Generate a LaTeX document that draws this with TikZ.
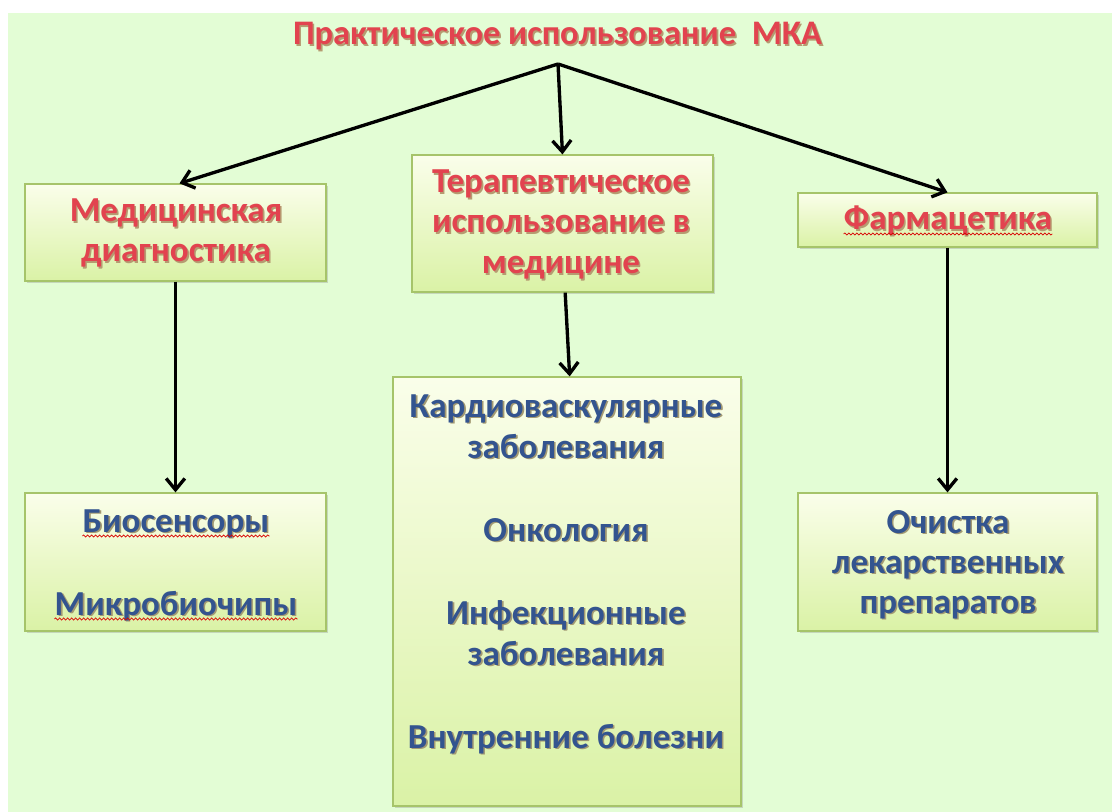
\documentclass[tikz,border=0pt]{standalone}
\usepackage{fontspec}
\setmainfont{Carlito}
\usetikzlibrary{arrows.meta,shadows,decorations.pathmorphing}
\definecolor{bg}{HTML}{E3FDD5}
\definecolor{boxtop}{HTML}{FAFEEA}
\definecolor{boxbot}{HTML}{DAF2A6}
\definecolor{boxedge}{HTML}{A6C46A}
\definecolor{redtxt}{HTML}{E2434F}
\definecolor{redsh}{HTML}{8A3030}
\definecolor{bluetxt}{HTML}{33548F}
\definecolor{bluesh}{HTML}{6A4040}
\newcommand\shred[1]{\makebox[0pt][l]{\hspace{1.2pt}\raisebox{-1.2pt}{\textcolor{redsh!45!boxbot}{#1}}}\textcolor{redtxt}{#1}}
\newcommand\shblue[1]{\makebox[0pt][l]{\hspace{1.2pt}\raisebox{-1.2pt}{\textcolor{bluesh!50!boxbot}{#1}}}\textcolor{bluetxt}{#1}}
\begin{document}
\begin{tikzpicture}[x=0.75pt,y=-0.75pt,
  box/.style={draw=boxedge, line width=0.9pt, top color=boxtop, bottom color=boxbot,
    drop shadow={shadow xshift=1.5pt, shadow yshift=-1.5pt, opacity=0.3}, inner sep=0},
  lab/.style={anchor=base, inner sep=0, font=\fontsize{26.3}{31}\selectfont\bfseries},
  sml/.style={anchor=base, inner sep=0, font=\fontsize{26.3}{31}\selectfont\bfseries},
  ttl/.style={anchor=base, inner sep=0, font=\fontsize{25.8}{30}\selectfont\bfseries},
  arr/.style={line width=2.5pt, -{Straight Barb[length=8.5pt,width=14pt]}},
  wavy/.style={draw=red!85!black, line width=0.5pt, decorate,
    decoration={snake, amplitude=0.8pt, segment length=3pt}}]
\useasboundingbox (0,0) rectangle (1112,812);
\fill[white] (0,0) rectangle (1112,812);
\fill[bg] (8,13) rectangle (1112,812);

% title
\node[ttl] (title) at (557.5,45) {\shred{Практическое использование\ \ МКА}};
\coordinate (apex) at (558,64);

% boxes
\node[box, minimum width=301*0.75pt, minimum height=97*0.75pt] (b1) at (175.5,232.5) {};
\node[box, minimum width=301*0.75pt, minimum height=137*0.75pt] (b2) at (562.5,223.5) {};
\node[box, minimum width=299*0.75pt, minimum height=54*0.75pt] (b3) at (947.5,220) {};
\node[box, minimum width=301*0.75pt, minimum height=138*0.75pt] (b4) at (175.5,562) {};
\node[box, minimum width=348*0.75pt, minimum height=429*0.75pt] (b5) at (567,591.5) {};
\node[box, minimum width=299*0.75pt, minimum height=138*0.75pt] (b6) at (947.5,562) {};

% box 1
\node[lab] (b1a) at (176,222) {\shred{Медицинская}};
\node[lab] (b1b) at (176,262) {\shred{диагностика}};
% box 2
\node[lab] (b2a) at (561,193) {\shred{Терапевтическое}};
\node[lab] (b2b) at (561,233) {\shred{использование в}};
\node[lab] (b2c) at (561,274) {\shred{медицине}};
% box 3
\node[lab] (b3a) at (948,230) {\shred{Фармацетика}};
\draw[wavy] ([yshift=-3pt]b3a.base west) -- ([yshift=-3pt]b3a.base east);
% box 4
\node[lab] (b4a) at (176,532) {\shblue{Биосенсоры}};
\node[lab] (b4b) at (176,615) {\shblue{Микробиочипы}};
\draw[wavy] ([yshift=-3pt]b4a.base west) -- ([yshift=-3pt]b4a.base east);
\draw[wavy] ([yshift=-3pt]b4b.base west) -- ([yshift=-3pt]b4b.base east);
% box 5
\node[sml] (b5a) at (566,417) {\shblue{Кардиоваскулярные}};
\node[sml] (b5b) at (566,458) {\shblue{заболевания}};
\node[sml] (b5c) at (566,541) {\shblue{Онкология}};
\node[sml] (b5d) at (566,624) {\shblue{Инфекционные}};
\node[sml] (b5e) at (566,665) {\shblue{заболевания}};
\node[sml] (b5f) at (566,748) {\shblue{Внутренние болезни}};
% box 6
\node[lab] (b6a) at (948,533) {\shblue{Очистка}};
\node[lab] (b6b) at (948,573) {\shblue{лекарственных}};
\node[lab] (b6c) at (948,613) {\shblue{препаратов}};

% arrows
\draw[arr] (apex) -- ([xshift=3pt]b1.north);
\draw[arr] (apex) -- (b2.north);
\draw[arr] (apex) -- (b3.north);
\draw[arr] (b1.south) -- (b4.north);
\draw[arr] ([xshift=2pt]b2.south) -- ([xshift=2pt]b5.north);
\draw[arr] (b3.south) -- (b6.north);
\end{tikzpicture}
\end{document}
